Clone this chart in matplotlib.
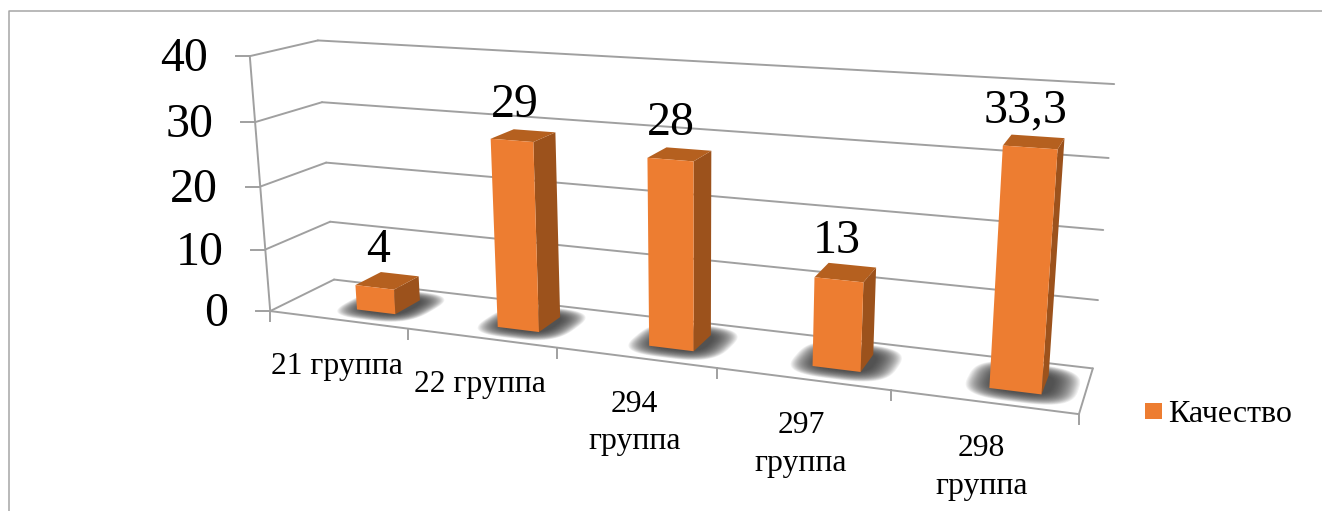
import matplotlib
matplotlib.use('Agg')
import matplotlib.pyplot as plt
from matplotlib.patches import Polygon, Rectangle
import numpy as np

# ── Data ──────────────────────────────────────────────────────────────────────
categories = ['21 группа', '22 группа', '294\nгруппа', '297\nгруппа', '298\nгруппа']
values     = [4, 29, 28, 13, 33.3]
labels     = ['4', '29', '28', '13', '33,3']
y_ticks    = [0, 10, 20, 30, 40]
series     = 'Качество'

# ── Style ─────────────────────────────────────────────────────────────────────
plt.rcParams['font.family'] = ['Liberation Serif', 'DejaVu Serif']
GRID   = '#a0a0a0'
FRONT  = '#ED7D31'
TOP    = '#B5601F'
SIDE   = '#9C521C'
BAR_W  = 0.28
BAR_DX = 0.14
Z0, Z1 = 0.30, 0.72

# ── Perspective camera, fitted on where the chart box corners sit in the image ─
calib = [
    (0, 0, 0, 271, 310), (0, 10, 0, 265, 249), (0, 20, 0, 260, 186), (0, 30, 0, 255, 122), (0, 40, 0, 250, 56),
    (0, 0, 1, 334, 279), (0, 10, 1, 330, 222), (0, 20, 1, 326, 163), (0, 30, 1, 322, 102), (0, 40, 1, 318, 41),
    (5, 0, 1, 1093, 368), (5, 10, 1, 1098, 300), (5, 20, 1, 1103, 230), (5, 30, 1, 1109, 158), (5, 40, 1, 1114, 84),
    (1, 0, 0, 408, 329), (2, 0, 0, 557, 350), (3, 0, 0, 717, 369), (4, 0, 0, 890, 390), (5, 0, 0, 1079, 413),
]
A = []
for cx, cy, cz, px, py in calib:
    p = [cx, cy / 40, cz, 1]
    u, v = px / 1000, py / 1000
    A.append(p + [0, 0, 0, 0] + [-u * q for q in p])
    A.append([0, 0, 0, 0] + p + [-v * q for q in p])
P = np.linalg.svd(np.array(A))[2][-1].reshape(3, 4)


def proj(x, y, z):
    h = P @ np.array([np.asarray(x, float), np.asarray(y, float) / 40,
                      np.asarray(z, float), np.ones_like(np.asarray(x, float))])
    return np.array([h[0] / h[2] * 1000, h[1] / h[2] * 1000])


def line(ax, a, b, lw=1.4):
    pa, pb = proj(*a), proj(*b)
    ax.plot([pa[0], pb[0]], [pa[1], pb[1]], color=GRID, lw=lw, solid_capstyle='round', zorder=2)


def face(ax, pts, color, zorder=5):
    ax.add_patch(Polygon([proj(*p) for p in pts], closed=True, facecolor=color,
                         edgecolor='none', zorder=zorder))


fig = plt.figure(figsize=(13.22, 5.11), dpi=100)
ax = fig.add_axes([0, 0, 1, 1])
ax.set_xlim(0, 1322)
ax.set_ylim(511, 0)
ax.axis('off')

# ── Chart border (top and left only are in the crop) ──────────────────────────
ax.plot([9, 9, 1322], [511, 11, 11], color='#a6a6a6', lw=1.1, zorder=1)

# ── Walls, floor, ticks ───────────────────────────────────────────────────────
n = len(categories)
for t in y_ticks:
    line(ax, (0, t, 0), (0, t, 1))
    line(ax, (0, t, 1), (n, t, 1))
    px, py = proj(0, t, 0)
    ax.plot([px - 14, px], [py, py], color=GRID, lw=1.4, zorder=2)
    ax.text(px - 42, py + 3, str(t), ha='right', va='center', fontsize=34.5, color='black', zorder=8)
line(ax, (0, 40, 0), (0, 0, 0))
line(ax, (0, 0, 0), (n, 0, 0))
line(ax, (n, 0, 0), (n, 0, 1))
for i in range(n + 1):
    px, py = proj(i, 0, 0)
    ax.plot([px, px], [py, py + 10], color=GRID, lw=1.4, zorder=2)

# ── Bars ──────────────────────────────────────────────────────────────────────
a = np.linspace(0, 2 * np.pi, 80)
for i, (val, lab, cat) in enumerate(zip(values, labels, categories)):
    xc = i + 0.5 + BAR_DX
    x0, x1 = xc - BAR_W / 2, xc + BAR_W / 2
    zc = (Z0 + Z1) / 2

    # soft floor shadow: stacked see-through rounded footprints
    for s in np.linspace(1, 0, 26):
        hx = BAR_W / 2 + 0.02 + 0.14 * s
        hz = (Z1 - Z0) / 2 + 0.02 + 0.2 * s
        sx = xc + 0.02 + hx * np.sign(np.cos(a)) * np.abs(np.cos(a)) ** 0.65
        sz = zc + hz * np.sign(np.sin(a)) * np.abs(np.sin(a)) ** 0.65
        ax.add_patch(Polygon(proj(sx, np.zeros_like(sx), sz).T, closed=True,
                             facecolor='#3a3a3a', edgecolor='none', alpha=0.07, zorder=3))

    face(ax, [(x1, 0, Z0), (x1, 0, Z1), (x1, val, Z1), (x1, val, Z0)], SIDE)
    face(ax, [(x0, val, Z0), (x1, val, Z0), (x1, val, Z1), (x0, val, Z1)], TOP)
    face(ax, [(x0, 0, Z0), (x1, 0, Z0), (x1, val, Z0), (x0, val, Z0)], FRONT, zorder=6)

    # value label above the bar
    px, py = proj(xc, val, zc)
    ax.text(px - 9, py - 31, lab, ha='center', va='center', fontsize=34.5, color='black', zorder=8)

    # category label under the front edge
    px, py = proj(i + 0.5, 0, 0)
    ax.text(px - 1, py + 32, cat, ha='center', va='top', fontsize=22.8, color='black',
            linespacing=1.4, zorder=8)

# ── Legend ────────────────────────────────────────────────────────────────────
ax.add_patch(Rectangle((1145, 403), 17, 16, facecolor=FRONT, edgecolor='none', zorder=8))
ax.text(1168, 415, series, ha='left', va='center', fontsize=23, color='black', zorder=8)

fig.savefig('out.png', dpi=100, facecolor='white')
